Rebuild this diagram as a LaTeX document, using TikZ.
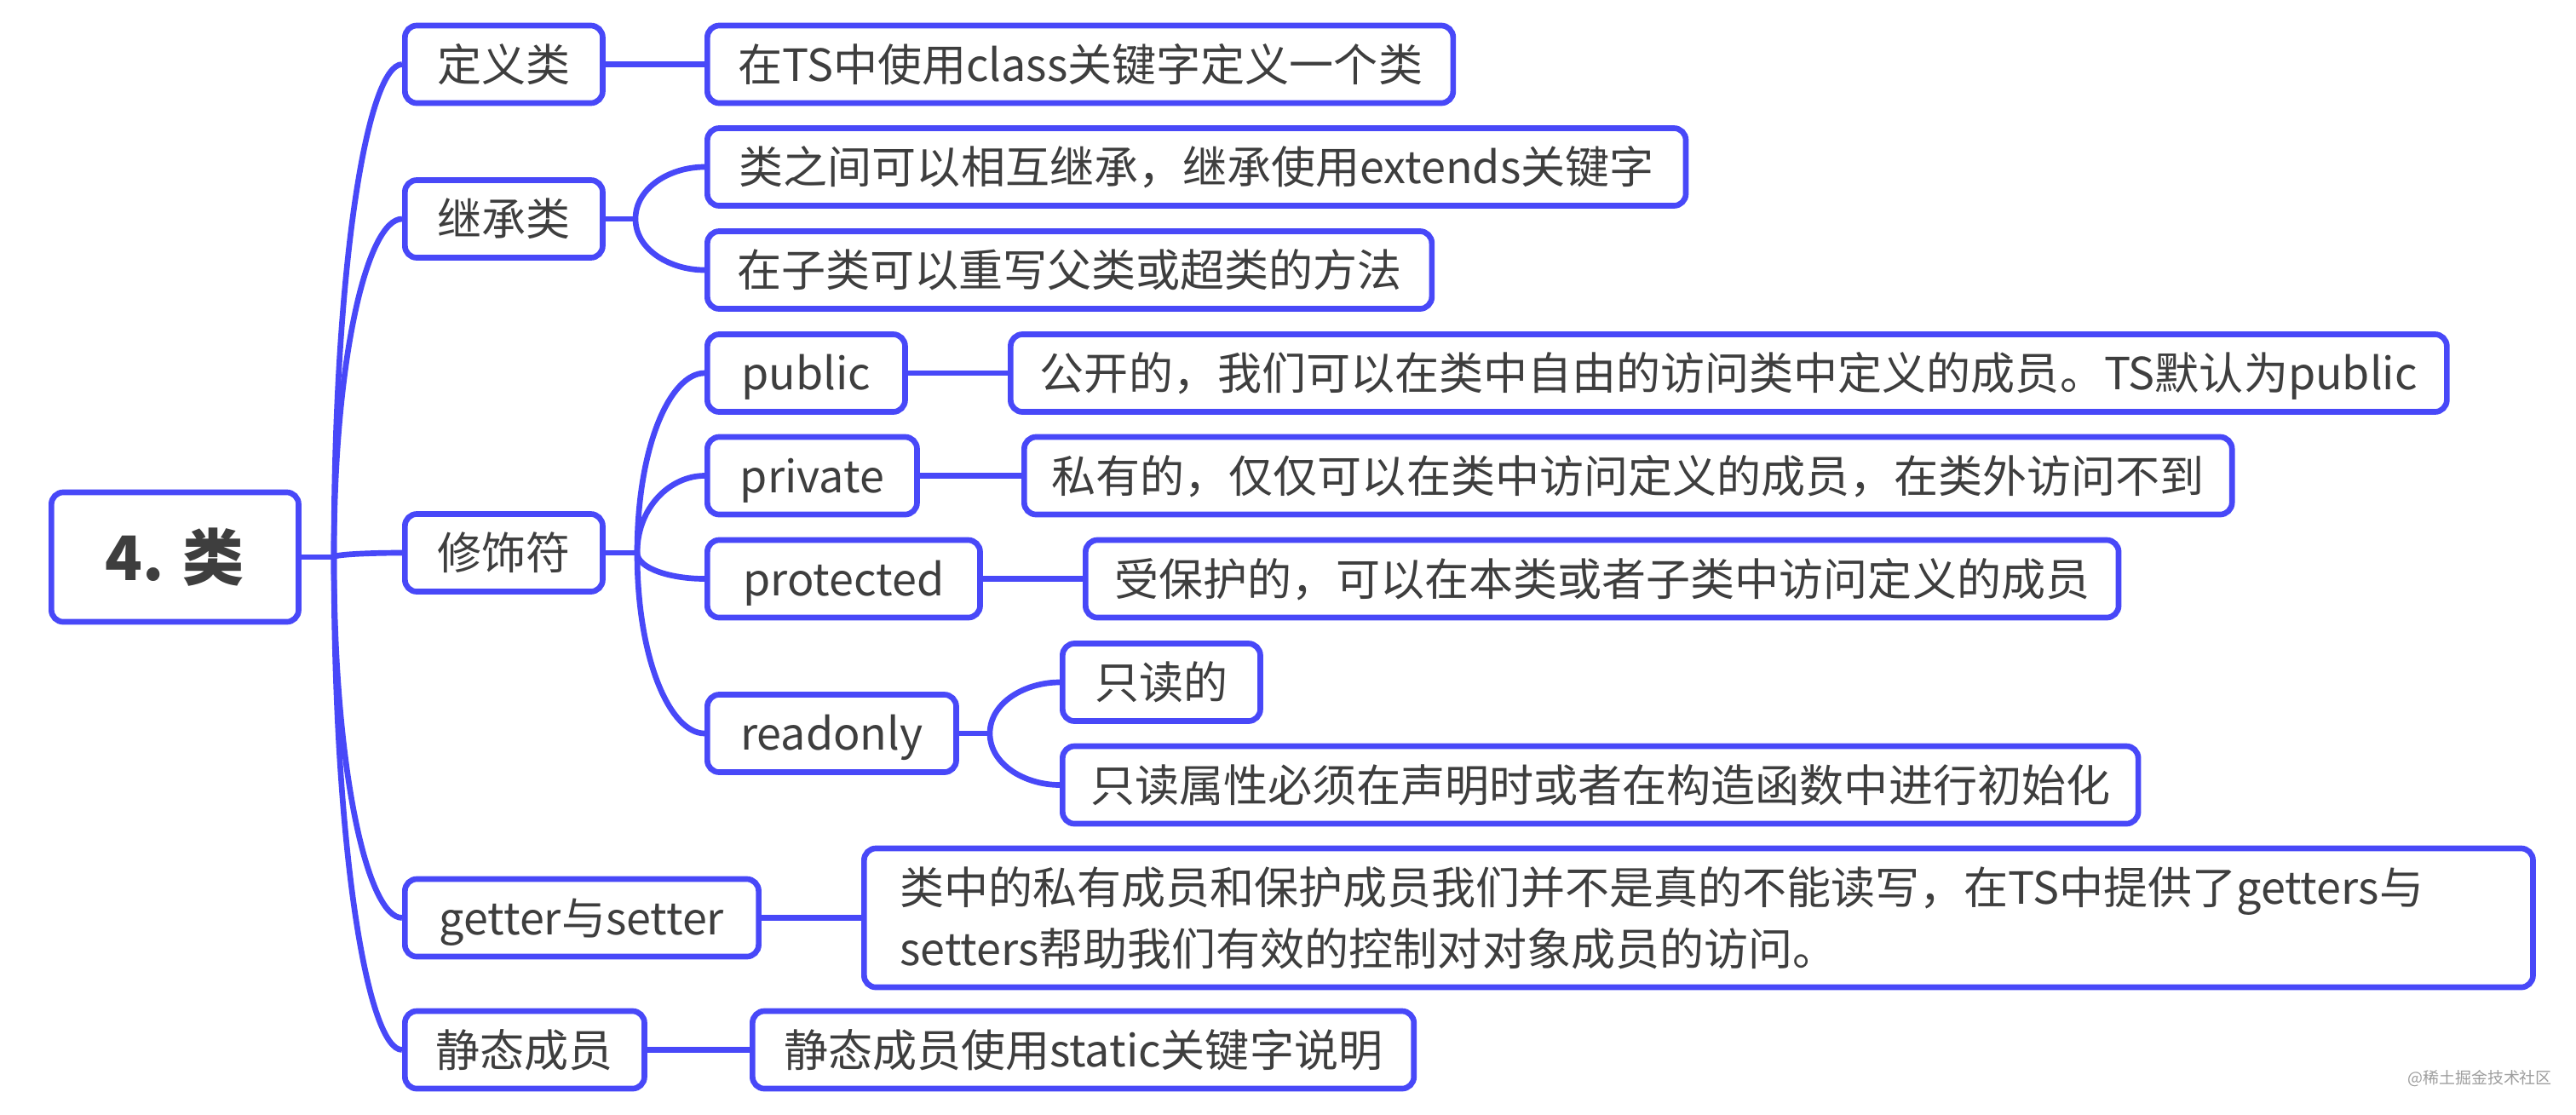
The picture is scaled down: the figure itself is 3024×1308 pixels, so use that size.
\documentclass[tikz,border=0pt]{standalone}
\usepackage{fontspec}
\setmainfont{Noto Sans CJK SC}
\usetikzlibrary{calc}
\definecolor{mmblue}{RGB}{72,72,248}
\definecolor{mmtext}{RGB}{62,62,62}
\newcommand\mmcurve[2]{\draw[conn] (#1) .. controls ($(#1)!0.6!(#1|-#2.west)$) and ($(#1|-#2.west)!0.5!(#2.west)$) .. (#2.west);}
\begin{document}
\begin{tikzpicture}[x=0.01cm,y=-0.01cm,
  base/.style={draw=mmblue, line width=1.9pt, rounded corners=0.14cm, fill=white, text=mmtext,
    font=\fontsize{14.8pt}{20.5pt}\selectfont, inner sep=0pt, minimum height=0.91cm, anchor=west},
  box/.style={base, text height=0.458cm, text depth=0.062cm},
  conn/.style={draw=mmblue, line width=1.9pt}]
\fill[white] (0,0) rectangle (3024,1308);
\useasboundingbox (0,0) rectangle (3024,1308);

% root
\node[box, minimum width=2.90cm, minimum height=1.52cm,
  font=\fontsize{20.5pt}{24pt}\selectfont\bfseries, text height=0.634cm, text depth=0.086cm]
  (root) at (57,654) {4. 类};

% level 1
\node[box, minimum width=2.32cm] (def) at (472,75.5) {定义类};
\node[box, minimum width=2.32cm] (inh) at (472,257) {继承类};
\node[box, minimum width=2.32cm] (mod) at (472,649) {修饰符};
\node[box, minimum width=4.15cm] (gs) at (472,1077.5) {getter与setter};
\node[box, minimum width=2.81cm] (st) at (472,1232.5) {静态成员};

% level 2
\node[box, minimum width=8.75cm] (d1) at (827,75.5) {在TS中使用class关键字定义一个类};
\node[box, minimum width=11.48cm] (d2) at (827,196) {类之间可以相互继承，继承使用extends关键字};
\node[box, minimum width=8.50cm] (d3) at (827,317) {在子类可以重写父类或超类的方法};
\node[box, minimum width=2.32cm] (pub) at (827,438) {public};
\node[box, minimum width=2.46cm] (pri) at (827,558.5) {private};
\node[box, minimum width=3.20cm] (pro) at (827,679.5) {protected};
\node[box, minimum width=2.92cm] (ro) at (827,861) {readonly};
\node[base, minimum height=1.63cm, text width=18.74cm, inner xsep=0.42cm, align=left]
  (gsd) at (1011,1077.5) {\rule{0pt}{0.458cm}类中的私有成员和保护成员我们并不是真的不能读写，在TS中提供了getters与\\setters帮助我们有效的控制对对象成员的访问。\rule[-0.062cm]{0pt}{0.062cm}};
\node[box, minimum width=7.76cm] (std) at (880,1232.5) {静态成员使用static关键字说明};

% level 3
\node[box, minimum width=16.85cm] (pubd) at (1183,438) {公开的，我们可以在类中自由的访问类中定义的成员。TS默认为public};
\node[box, minimum width=14.17cm] (prid) at (1199,558.5) {私有的，仅仅可以在类中访问定义的成员，在类外访问不到};
\node[box, minimum width=12.12cm] (prod) at (1271,679.5) {受保护的，可以在本类或者子类中访问定义的成员};
\node[box, minimum width=2.32cm] (ro1) at (1244,801) {只读的};
\node[box, minimum width=12.62cm] (ro2) at (1244,921.5) {只读属性必须在声明时或者在构造函数中进行初始化};

% watermark
\node[font=\fontsize{5.4pt}{6pt}\selectfont, text=black!38] (wm) at (2911,1266) {@稀土掘金技术社区};

% connectors
\coordinate (rj) at (392,654);
\draw[conn] (root.east) -- (rj);
\mmcurve{rj}{def}
\mmcurve{rj}{inh}
\mmcurve{rj}{mod}
\mmcurve{rj}{gs}
\mmcurve{rj}{st}

\draw[conn] (def.east) -- (d1.west);

\coordinate (ij) at (746,257);
\draw[conn] (inh.east) -- (ij);
\mmcurve{ij}{d2}
\mmcurve{ij}{d3}

\coordinate (mj) at (748,649);
\draw[conn] (mod.east) -- (mj);
\mmcurve{mj}{pub}
\mmcurve{mj}{pri}
\mmcurve{mj}{pro}
\mmcurve{mj}{ro}

\draw[conn] (pub.east) -- (pubd.west);
\draw[conn] (pri.east) -- (prid.west);
\draw[conn] (pro.east) -- (prod.west);

\coordinate (rdj) at (1162,861);
\draw[conn] (ro.east) -- (rdj);
\mmcurve{rdj}{ro1}
\mmcurve{rdj}{ro2}

\draw[conn] (gs.east) -- (gsd.west);
\draw[conn] (st.east) -- (std.west);
\end{tikzpicture}
\end{document}
